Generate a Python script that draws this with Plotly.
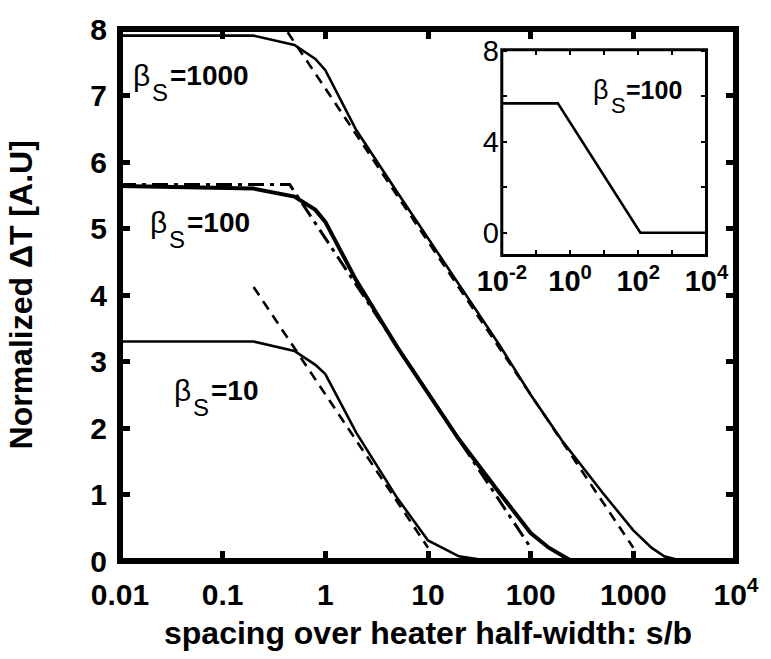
import plotly.graph_objects as go

# ---- main curves: normalized temperature rise vs spacing s/b ----
s_b10 = [0.01, 0.2, 0.5, 0.8, 1, 2, 5, 10, 20, 40]
dT_b10 = [3.30, 3.30, 3.16, 2.95, 2.81, 1.93, 0.95, 0.31, 0.07, 0.0]

s_b100 = [0.01, 0.2, 0.5, 0.8, 1, 2, 5, 10, 20, 50, 100, 150, 200, 250]
dT_b100 = [5.64, 5.60, 5.48, 5.28, 5.10, 4.22, 3.22, 2.52, 1.83, 1.02, 0.42, 0.20, 0.08, 0.0]

s_b1000 = [0.01, 0.2, 0.5, 0.8, 1, 2, 5, 10, 20, 50, 100, 200, 500, 1000, 1500, 2000, 3000]
dT_b1000 = [7.90, 7.90, 7.76, 7.55, 7.38, 6.48, 5.55, 4.85, 4.16, 3.24, 2.50, 1.82, 1.03, 0.46, 0.20, 0.07, 0.0]

# ---- logarithmic asymptotes ----
s_asym10 = [0.2, 10]
dT_asym10 = [4.12, 0.2]

s_asym100 = [0.01, 0.45, 100]
dT_asym100 = [5.66, 5.66, 0.2]

s_asym1000 = [0.43, 1000]
dT_asym1000 = [7.95, 0.2]

# ---- inset: piecewise model for beta_s = 100 ----
s_inset = [0.01, 0.44, 115, 10000]
dT_inset = [5.69, 5.69, 0.0, 0.0]

# ---- tick labels ----
x_tickvals = [0.01, 0.1, 1, 10, 100, 1000, 10000]
x_ticktext = ["0.01", "0.1", "1", "10", "100", "1000", "10<sup>4</sup>"]
y_tickvals = [0, 1, 2, 3, 4, 5, 6, 7, 8]

xi_tickvals = [0.01, 0.1, 1, 10, 100, 1000, 10000]
xi_ticktext = ["10<sup>-2</sup>", "", "10<sup>0</sup>", "", "10<sup>2</sup>", "", "10<sup>4</sup>"]
yi_tickvals = [0, 2, 4, 6, 8]
yi_ticktext = ["0", "", "4", "", "8"]

FONT = "Liberation Sans, Arial, sans-serif"
BLACK = "black"

fig = go.Figure()

solid = dict(color=BLACK, width=2.6)
dashed = dict(color=BLACK, width=2.6, dash="10px,7px")

fig.add_trace(go.Scatter(x=s_b10, y=dT_b10, mode="lines", line=solid))
fig.add_trace(go.Scatter(x=s_b100, y=dT_b100, mode="lines", line=dict(color=BLACK, width=4)))
fig.add_trace(go.Scatter(x=s_b1000, y=dT_b1000, mode="lines", line=solid))

fig.add_trace(go.Scatter(x=s_asym10, y=dT_asym10, mode="lines", line=dashed))
fig.add_trace(go.Scatter(x=s_asym100, y=dT_asym100, mode="lines",
                         line=dict(color=BLACK, width=3, dash="16px,6px,4px,6px")))
fig.add_trace(go.Scatter(x=s_asym1000, y=dT_asym1000, mode="lines", line=dashed))

fig.add_trace(go.Scatter(x=s_inset, y=dT_inset, mode="lines", line=dict(color=BLACK, width=2.6),
                         xaxis="x2", yaxis="y2"))

tick_font = dict(family=FONT, size=30, color=BLACK, weight="bold")

fig.update_layout(
    width=771, height=659,
    margin=dict(l=120, r=25, t=22, b=98),
    paper_bgcolor="white", plot_bgcolor="white",
    showlegend=False,
    xaxis=dict(type="log", range=[-2, 4], tickvals=x_tickvals, ticktext=x_ticktext,
               ticks="inside", ticklen=10, tickwidth=5, tickcolor=BLACK, mirror="ticks",
               showline=False, showgrid=False, zeroline=False, tickfont=tick_font,
               ticklabelstandoff=13),
    yaxis=dict(range=[0, 8], tickvals=y_tickvals,
               ticks="inside", ticklen=10, tickwidth=5, tickcolor=BLACK, mirror="ticks",
               showline=False, showgrid=False, zeroline=False, tickfont=tick_font,
               ticklabelstandoff=12),
    xaxis2=dict(type="log", range=[-2, 4], domain=[0.6198, 0.9521], anchor="y2",
                tickvals=xi_tickvals, ticktext=xi_ticktext,
                ticks="inside", ticklen=5, tickwidth=2, tickcolor=BLACK, mirror="ticks",
                showline=False, showgrid=False, zeroline=False,
                tickfont=dict(family=FONT, size=29, color=BLACK, weight="bold"),
                ticklabelstandoff=6),
    yaxis2=dict(range=[-1, 8.05], domain=[0.5743, 0.961], anchor="x2",
                tickvals=yi_tickvals, ticktext=yi_ticktext,
                ticks="inside", ticklen=5, tickwidth=2, tickcolor=BLACK, mirror="ticks",
                showline=False, showgrid=False, zeroline=False,
                tickfont=dict(family=FONT, size=29, color=BLACK),
                ticklabelstandoff=2),
)

# frames of the main plot and the inset
fig.add_shape(type="rect", xref="x domain", yref="y domain", x0=0, x1=1, y0=0, y1=1,
              line=dict(color=BLACK, width=6), layer="above")
fig.add_shape(type="rect", xref="x2 domain", yref="y2 domain", x0=0, x1=1, y0=0, y1=1,
              line=dict(color=BLACK, width=3), layer="above")


def beta_label(x, y, xref, yref, value, size):
    """beta with a large lowered subscript S, followed by a bold '=value'."""
    common = dict(x=x, y=y, xref=xref, yref=yref, showarrow=False,
                  xanchor="left", yanchor="middle")
    fig.add_annotation(text="β", font=dict(family=FONT, size=size + 2, color=BLACK),
                       xshift=-2, yshift=0, **common)
    fig.add_annotation(text="S", font=dict(family=FONT, size=int(size * 0.88), color=BLACK),
                       xshift=round(size * 0.62), yshift=-round(size * 0.62), **common)
    fig.add_annotation(text="=" + value,
                       font=dict(family=FONT, size=size, color=BLACK, weight="bold"),
                       xshift=round(size * 1.25), yshift=0, **common)


beta_label(-1.875, 7.30, "x", "y", "1000", 28)
beta_label(-1.712, 5.09, "x", "y", "100", 28)
beta_label(-1.473, 2.57, "x", "y", "10", 28)
beta_label(0.68, 6.3, "x2", "y2", "100", 25)

# axis titles
fig.add_annotation(x=0.5, y=-0.135, xref="paper", yref="paper",
                   text="<b>spacing over heater half-width: s/b</b>", showarrow=False,
                   xanchor="center", yanchor="middle", font=dict(family=FONT, size=32, color=BLACK))
fig.add_annotation(x=-0.16, y=0.5, xref="paper", yref="paper",
                   text="<b>Normalized ΔT [A.U]</b>", showarrow=False, textangle=-90,
                   xanchor="center", yanchor="middle", font=dict(family=FONT, size=32, color=BLACK))

fig.write_html("out.html")
